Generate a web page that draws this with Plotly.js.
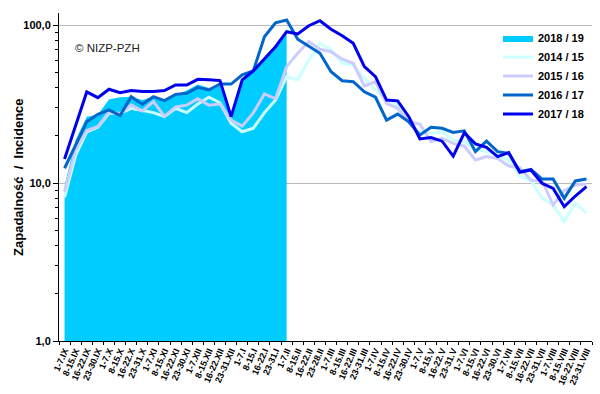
<!DOCTYPE html>
<html>
<head>
<meta charset="utf-8">
<script src="https://cdn.plot.ly/plotly-3.0.1.min.js"></script>
<style>html,body{margin:0;padding:0;background:#fff;} #chart{width:600px;height:394px;}</style>
</head>
<body>
<div id="chart"></div>
<script>
const categories = ["1-7.IX","8-15.IX","16-22.IX","23-30.IX","1-7.X","8-15.X","16-22.X","23-31.X","1-7.XI","8-15.XI","16-22.XI","23-30.XI","1-7.XII","8-15.XII","16-22.XII","23-31.XII","1-7.I","8-15.I","16-22.I","23-31.I","1-7.II","8-15.II","16-22.II","23-28.II","1-7.III","8-15.III","16-22.III","23-31.III","1-7.IV","8-15.IV","16-22.IV","23-30.IV","1-7.V","8-15.V","16-22.V","23-31.V","1-7.VI","8-15.VI","16-22.VI","23-30.VI","1-7.VII","8-15.VII","16-22.VII","23-31.VII","1-7.VIII","8-15.VIII","16-22.VIII","23-31.VIII"];

const s2018_19 = [9.6,18.7,26.3,27,33.8,34.9,35.2,33.5,35,33,36,38.5,42,40,42,26.3,45.5,53,60.7,72.9,88];
const s2014_15 = [8.1,15.0,21.1,22.5,27.6,27.6,29.7,28.7,27.9,26.3,29.7,27.9,31.6,34.9,32.2,23.9,21.1,22.2,27.9,33.5,47.1,44.9,60.0,76.6,69.5,57.3,55.8,46.0,38.8,33.5,31.2,23.9,21.1,20.6,21.1,18.7,18.3,16.2,15.8,15.0,14.0,11.0,10.4,8.0,7.26,5.69,7.5,6.43];
const s2015_16 = [8.8,16.2,21.5,22.8,28.1,27.3,31.2,28.5,32.8,26.4,30.3,31.1,34.1,31.1,31.6,25.0,22.9,27.8,36.6,34.1,54.5,66.2,78.4,70.2,67.8,60.7,57.3,41.1,43.8,31.9,29.7,24.4,23.6,18.3,19.2,17.8,17.1,14.0,14.7,14.3,12.8,12.5,10.4,10.3,7.26,8.94,9.71,9.85];
const s2016_17 = [12.4,17.5,24.4,27.2,29.0,26.7,35.2,31.5,35.2,33.2,36.4,37,40.3,38.8,42.3,42.3,48.3,51.2,84.3,103.4,107.6,81.2,72.9,66.2,50.6,44.4,43.8,37.8,34.9,25.0,27.3,24.4,20.1,22.5,22.2,20.9,21.4,15.8,18.4,15.8,15.4,11.8,12.2,10.6,10.6,8.0,10.3,10.6];
const s2017_18 = [14.2,23.3,37.7,34.7,39.2,37.3,38.5,38,38,38.5,41.7,41.7,45.3,45,44.5,26.3,45,51.2,60.7,72.9,90.7,87.7,99,106.4,94,85.6,76.6,54.5,47.1,33.5,33.1,26.3,19,19.4,18.4,14.8,20.8,17.7,16.8,14.7,15.6,11.7,12.1,9.96,9.25,7.08,8.27,9.48];

const yTickVals = [1, 10, 100];
const yTickText = ["1,0", "10,0", "100,0"];
const yMinorVals = [2,3,4,5,6,7,8,9,20,30,40,50,60,70,80,90];
const yTitle = "Zapadalność  /  Incidence";

const FONT = "Arial, 'Liberation Sans', sans-serif";

const traces = [
  {x: categories.slice(0, s2018_19.length), y: s2018_19, name: "2018 / 19", type: "scatter", mode: "lines",
   fill: "tozeroy", fillcolor: "#00CCFF", line: {color: "#00CCFF", width: 0}},
  {x: categories, y: s2014_15, name: "2014 / 15", type: "scatter", mode: "lines", line: {color: "#CCFFFF", width: 3}},
  {x: categories, y: s2015_16, name: "2015 / 16", type: "scatter", mode: "lines", line: {color: "#CCCCFF", width: 3}},
  {x: categories, y: s2016_17, name: "2016 / 17", type: "scatter", mode: "lines", line: {color: "#0066CC", width: 3}},
  {x: categories, y: s2017_18, name: "2017 / 18", type: "scatter", mode: "lines", line: {color: "#0000EE", width: 3}}
];

const layout = {
  width: 600, height: 394,
  margin: {l: 59, r: 8, t: 13, b: 53},
  paper_bgcolor: "#fff", plot_bgcolor: "#fff",
  font: {family: FONT, color: "#000"},
  showlegend: true,
  legend: {x: 0.8236, xanchor: "left", y: 0.968, yanchor: "top", bgcolor: "rgba(0,0,0,0)",
           font: {family: FONT, size: 11, color: "#000", weight: "bold"}, tracegroupgap: 0},
  xaxis: {
    type: "category", categoryorder: "array", categoryarray: categories,
    range: [-0.5, 47.5], tickangle: -66, tickson: "boundaries",
    ticks: "outside", ticklen: 3, tickcolor: "#000",
    showline: true, linecolor: "#000", linewidth: 1, showgrid: false, zeroline: false,
    tickfont: {family: FONT, size: 9, color: "#000", weight: "bold"}, fixedrange: true
  },
  yaxis: {
    type: "log", range: [0, 2.076],
    tickmode: "array", tickvals: yTickVals, ticktext: yTickText,
    ticks: "outside", ticklen: 5, tickcolor: "#000",
    minor: {tickmode: "array", tickvals: yMinorVals, ticks: "outside", ticklen: 3, tickcolor: "#000", showgrid: false},
    showline: true, linecolor: "#000", linewidth: 1,
    showgrid: true, gridcolor: "#BBBBBB", gridwidth: 1, zeroline: false,
    tickfont: {family: FONT, size: 11, color: "#000", weight: "bold"}
  },
  annotations: [
    {text: "© NIZP-PZH", xref: "paper", yref: "paper", x: 0.026, y: 0.892, xanchor: "left", yanchor: "middle",
     showarrow: false, font: {family: FONT, size: 11.5, color: "#222"}},
    {text: yTitle, xref: "paper", yref: "paper", x: -0.077, y: 0.5, xanchor: "center", yanchor: "middle",
     textangle: -90, showarrow: false, font: {family: FONT, size: 13, color: "#000", weight: "bold"}}
  ]
};

Plotly.newPlot("chart", traces, layout, {displayModeBar: false, staticPlot: true});
</script>
</body>
</html>
